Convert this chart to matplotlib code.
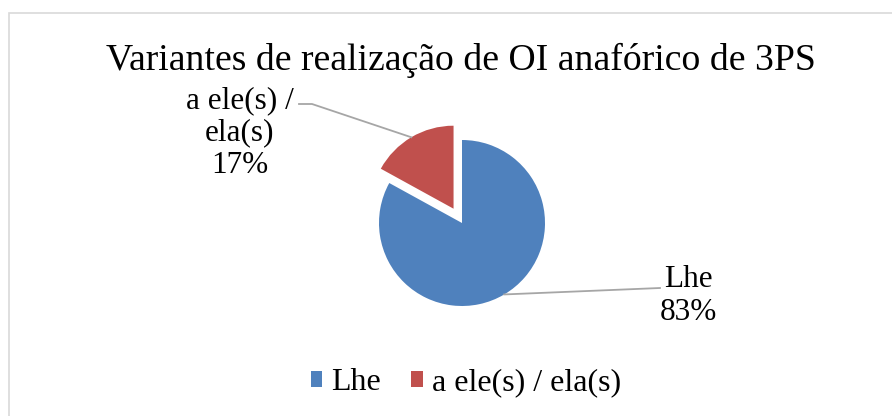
import numpy as np
import matplotlib.pyplot as plt
from matplotlib.patches import Rectangle

plt.rcParams["font.family"] = ["Liberation Serif", "DejaVu Serif"]

labels = ["Lhe", "a ele(s) / ela(s)"]
label_text = ["Lhe", "a ele(s) /\nela(s)"]
values = [83, 17]
colors = ["#4F81BD", "#C0504D"]
title = "Variantes de realização de OI anafórico de 3PS"

W, H = 892, 416
fig = plt.figure(figsize=(W / 100, H / 100), dpi=100)
ax = fig.add_axes([0, 0, 1, 1])

# chart border (cut by the crop at right and bottom)
ax.add_patch(Rectangle((9, -10), W + 10, H - 13 + 10, fill=False, edgecolor="#D9D9D9", lw=1.2))

cx, cy, r = 462, H - 223, 83
wedges, _ = ax.pie(values, colors=colors, startangle=90, counterclock=False,
                   explode=[0, 0.2 * r], center=(cx, cy), radius=r, frame=True)
ax.set_xlim(0, W); ax.set_ylim(0, H)
ax.set_aspect("equal"); ax.axis("off")

def anchor(w):
    mid = np.deg2rad((w.theta1 + w.theta2) / 2)
    x0, y0 = w.center
    return x0 + w.r * np.cos(mid), y0 + w.r * np.sin(mid)

# Lhe label
ax0, ay0 = anchor(wedges[0])
ax.plot([ax0, 660], [ay0, H - 288], color="#A6A6A6", lw=1.3)
ax.text(688, H - 296, f"{label_text[0]}\n{values[0]}%", ha="center", va="center",
        fontsize=22.5, linespacing=1.15)

# a ele(s) / ela(s) label
ax1, ay1 = anchor(wedges[1])
ax.plot([ax1, 312, 299], [ay1, H - 104, H - 104], color="#A6A6A6", lw=1.3)
ax.text(240, H - 133, f"{label_text[1]}\n{values[1]}%", ha="center", va="center",
        fontsize=22.5, linespacing=1.15)

ax.text(461, H - 70, title, ha="center", va="baseline", fontsize=27.2)

fig.legend(wedges, labels, loc="center", bbox_to_anchor=(466 / W, 1 - 383 / H), ncol=2,
           frameon=False, fontsize=23, handlelength=0.35, handleheight=0.35,
           handletextpad=0.3, columnspacing=0.95)

fig.savefig("out.png", dpi=100)
